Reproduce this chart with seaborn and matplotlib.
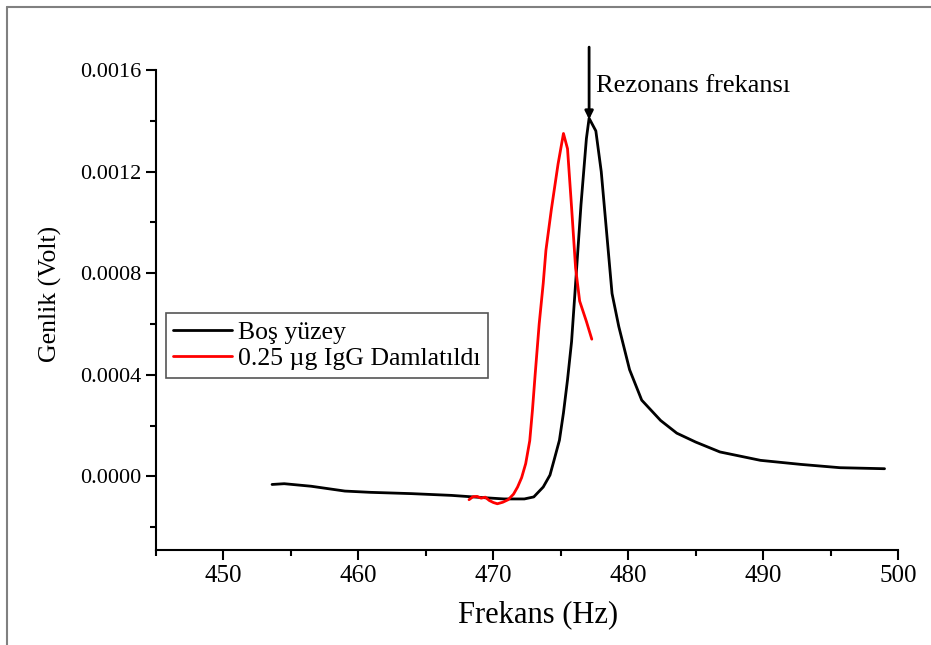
import numpy as np
import pandas as pd
import matplotlib.pyplot as plt
from matplotlib.lines import Line2D
from matplotlib.ticker import MultipleLocator
import seaborn as sns

# Boş yüzey (bare surface)
bos_freq = [453.6, 454.5, 456.5, 459.0, 460.9, 463.9, 466.9, 469.3, 470.8, 472.3,
            473.0, 473.7, 474.2, 474.5, 474.9, 475.2, 475.5, 475.8, 476.1, 476.5,
            476.9, 477.1, 477.6, 478.0, 478.4, 478.8, 479.3, 480.1, 481.0, 482.4,
            483.6, 485.0, 486.8, 489.8, 492.8, 495.7, 499.0]
bos_amp = [-0.32, -0.29, -0.39, -0.58, -0.63, -0.68, -0.75, -0.84, -0.89, -0.89,
           -0.81, -0.42, 0.05, 0.63, 1.42, 2.5, 3.8, 5.3, 7.6, 10.7,
           13.3, 14.1, 13.6, 12.0, 9.6, 7.2, 5.9, 4.2, 3.0, 2.2,
           1.7, 1.35, 0.96, 0.63, 0.47, 0.34, 0.30]  # x1e-4 V

# 0.25 ug IgG dropped
igg_freq = [468.2, 468.5, 468.8, 469.1, 469.4, 469.7, 470.0, 470.3, 470.7, 471.1,
            471.5, 471.8, 472.1, 472.4, 472.7, 472.9, 473.1, 473.4, 473.7, 473.9,
            474.3, 474.8, 475.2, 475.5, 475.8, 476.1, 476.4, 476.9, 477.3]
igg_amp = [-0.92, -0.80, -0.79, -0.86, -0.82, -0.95, -1.03, -1.08, -1.02, -0.92,
           -0.70, -0.42, -0.05, 0.50, 1.40, 2.60, 4.0, 6.0, 7.6, 8.9,
           10.5, 12.3, 13.5, 12.9, 10.6, 8.2, 6.9, 6.1, 5.4]  # x1e-4 V

peak_freq = 477.1
peak_amp = 14.05e-4

df_bos = pd.DataFrame({'Frekans': bos_freq, 'Genlik': np.array(bos_amp) * 1e-4})
df_igg = pd.DataFrame({'Frekans': igg_freq, 'Genlik': np.array(igg_amp) * 1e-4})

sns.set_style('ticks', {'axes.edgecolor': 'black', 'text.color': 'black',
                        'xtick.color': 'black', 'ytick.color': 'black',
                        'axes.labelcolor': 'black'})
plt.rcParams['font.family'] = ['Liberation Serif', 'DejaVu Serif']

fig = plt.figure(figsize=(9.31, 6.45), dpi=100)
ax = fig.add_axes([0.1676, 0.1473, 0.797, 0.7442])

sns.lineplot(data=df_bos, x='Frekans', y='Genlik', sort=False, color='black',
             linewidth=2, label='Boş yüzey', ax=ax)
sns.lineplot(data=df_igg, x='Frekans', y='Genlik', sort=False, color='#ff0000',
             linewidth=2, label='0.25 µg IgG Damlatıldı', ax=ax)

ax.set_xlim(445, 500)
ax.set_ylim(-0.00029, 0.0016)
ax.xaxis.set_major_locator(MultipleLocator(10))
ax.xaxis.set_minor_locator(MultipleLocator(5))
ax.yaxis.set_major_locator(MultipleLocator(0.0004))
ax.yaxis.set_minor_locator(MultipleLocator(0.0002))
ax.yaxis.set_major_formatter(plt.FuncFormatter(lambda v, p: f'{v:.4f}'))
ax.tick_params(which='major', direction='out', length=7, width=1.5, labelsize=16,
               colors='black')
ax.tick_params(which='minor', direction='out', length=4, width=1.5)
ax.tick_params(axis='x', labelsize=18)
for s in ['top', 'right']:
    ax.spines[s].set_visible(False)
for s in ['left', 'bottom']:
    ax.spines[s].set_linewidth(1.5)

ax.set_xlabel('Frekans (Hz)', fontsize=22)
ax.set_ylabel('Genlik (Volt)', fontsize=18.5)
ax.xaxis.set_label_coords(0.515, -0.105)
ax.yaxis.set_label_coords(-0.127, 0.533)

# arrow to resonance peak
ax.annotate('', xy=(peak_freq, peak_amp), xytext=(peak_freq, 0.00169),
            arrowprops=dict(arrowstyle='-|>', color='black', lw=2,
                            mutation_scale=12, shrinkA=0, shrinkB=0),
            annotation_clip=False)
ax.text(477.6, 0.001535, 'Rezonans frekansı', fontsize=19, ha='left', va='center')

leg = ax.legend(loc='upper left', bbox_to_anchor=(0.013, 0.494), fontsize=18.5,
                frameon=True, fancybox=False, framealpha=1, edgecolor='#555555',
                handlelength=2.3, handletextpad=0.2, borderpad=0.3,
                labelspacing=0.15, borderaxespad=0)
leg.get_frame().set_linewidth(1.2)

# thin gray border of the figure (top and left)
fig.add_artist(Line2D([0.0075, 1.0], [0.989, 0.989], color='#808080', lw=1.5,
                      transform=fig.transFigure))
fig.add_artist(Line2D([0.0075, 0.0075], [0.0, 0.989], color='#808080', lw=1.5,
                      transform=fig.transFigure))

fig.savefig('out.png', dpi=100)
